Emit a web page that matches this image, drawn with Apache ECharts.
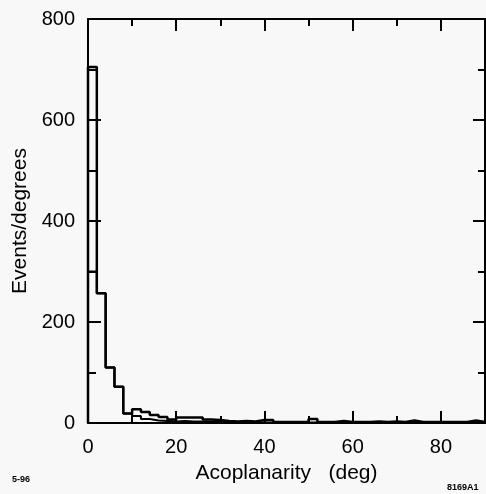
<!DOCTYPE html>
<html>
<head>
<meta charset="utf-8">
<style>
html,body{margin:0;padding:0;background:#f8f8f8;}
#chart{width:486px;height:494px;}
</style>
<script src="https://cdn.jsdelivr.net/npm/echarts@6/dist/echarts.min.js"></script>
</head>
<body>
<div id="chart"></div>
<script>
// Bin left edges (deg), bin width 2 deg, range 0-90
const binLeft = [0,2,4,6,8,10,12,14,16,18,20,22,24,26,28,30,32,34,36,38,40,42,44,46,48,50,52,54,56,58,60,62,64,66,68,70,72,74,76,78,80,82,84,86,88];
const binRightEnd = 90;
// Thick histogram (Events/degrees)
const mainValues = [705,257,110,72,19,27,22,16,12,7,11,11,11,7,6,4,3,4,3,6,6,2,2,2,2,8,2,2,4,2,2,2,3,2,3,2,5,2,2,2,2,2,2,5,2];
// Thin overlaid histogram
const secondValues = [300,257,110,72,19,14,8,5,4,3,4,3,3,3,2,2,2,2,2,1,1,2,2,1,1,1,1,1,2,1,1,1,1,1,1,1,1,1,1,1,1,1,1,1,1];
const xTickLabels = [0,20,40,60,80];
const yTickLabels = [0,200,400,600,800];

function stepData(vals){
  const d = [[binLeft[0],0]];
  for(let i=0;i<binLeft.length;i++) d.push([binLeft[i], vals[i]]);
  d.push([binRightEnd, 0]);
  return d;
}

const chart = echarts.init(document.getElementById('chart'));
const font = '"Liberation Sans", Arial, sans-serif';
const black = '#000';
const lbl = {color:black, fontFamily:font, fontSize:20};

const xCommon = {type:'value', min:0, max:90, gridIndex:0, splitLine:{show:false}};
const yCommon = {type:'value', min:0, max:800, interval:200, gridIndex:0, splitLine:{show:false}};

chart.setOption({
  backgroundColor:'#f8f8f8',
  animation:false,
  grid:{left:88, right:1, top:19, bottom:71},
  xAxis:[
    Object.assign({}, xCommon, {position:'bottom', interval:10,
      axisLine:{show:true, lineStyle:{color:black, width:2}},
      axisTick:{show:true, inside:true, length:7, lineStyle:{color:black, width:2}},
      axisLabel:Object.assign({}, lbl, {margin:14, showMaxLabel:false,
        formatter:function(v){return xTickLabels.indexOf(v)>=0 ? String(v) : '';}}),
      name:'Acoplanarity   (deg)', nameLocation:'middle', nameGap:40,
      nameTextStyle:{color:black, fontFamily:font, fontSize:21}
    }),
    Object.assign({}, xCommon, {position:'bottom', interval:20,
      axisLine:{show:false},
      axisTick:{show:true, inside:true, length:12, lineStyle:{color:black, width:2}},
      axisLabel:{show:false}
    }),
    Object.assign({}, xCommon, {position:'top', interval:10,
      axisLine:{show:true, onZero:false, lineStyle:{color:black, width:2}},
      axisTick:{show:true, inside:true, length:7, lineStyle:{color:black, width:2}},
      axisLabel:{show:false}
    }),
    Object.assign({}, xCommon, {position:'top', interval:20,
      axisLine:{show:false},
      axisTick:{show:true, inside:true, length:12, lineStyle:{color:black, width:2}},
      axisLabel:{show:false}
    })
  ],
  yAxis:[
    Object.assign({}, yCommon, {position:'left',
      axisLine:{show:true, lineStyle:{color:black, width:2}},
      axisTick:{show:true, inside:true, length:13, lineStyle:{color:black, width:2}},
      minorTick:{show:true, splitNumber:2, length:8, lineStyle:{color:black, width:2}},
      axisLabel:Object.assign({}, lbl, {margin:13,
        formatter:function(v){return yTickLabels.indexOf(v)>=0 ? String(v) : '';}}),
      name:'Events/degrees', nameLocation:'middle', nameGap:54, nameRotate:90,
      nameTextStyle:{color:black, fontFamily:font, fontSize:21}
    }),
    Object.assign({}, yCommon, {position:'right',
      axisLine:{show:true, onZero:false, lineStyle:{color:black, width:2}},
      axisTick:{show:true, inside:true, length:12, lineStyle:{color:black, width:2}},
      minorTick:{show:true, splitNumber:2, length:7, lineStyle:{color:black, width:2}},
      axisLabel:{show:false}
    })
  ],
  series:[
    {type:'line', xAxisIndex:0, yAxisIndex:0, step:'end', data:stepData(secondValues),
      symbol:'none', lineStyle:{color:black, width:2}, z:3},
    {type:'line', xAxisIndex:0, yAxisIndex:0, step:'end', data:stepData(mainValues),
      symbol:'none', lineStyle:{color:black, width:2.5}, z:4}
  ],
  graphic:[
    {type:'text', left:12, top:475, style:{text:'5-96', fill:black, font:'bold 9px "Liberation Sans", Arial, sans-serif'}},
    {type:'text', left:447, top:483, style:{text:'8169A1', fill:black, font:'bold 9px "Liberation Sans", Arial, sans-serif'}}
  ]
});
</script>
</body>
</html>
